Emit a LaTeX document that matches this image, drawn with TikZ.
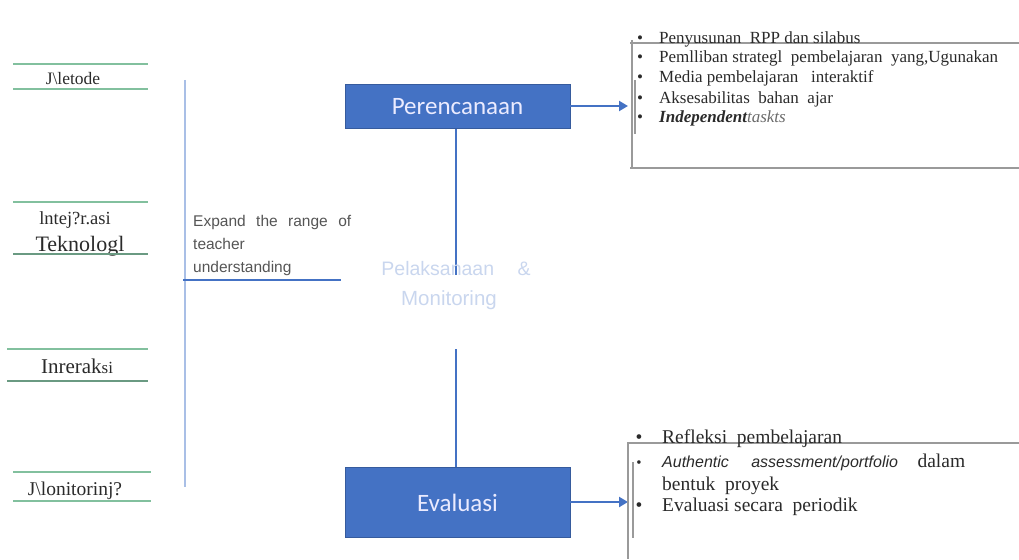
\documentclass[tikz,border=0pt]{standalone}
\usepackage{fontspec}
\setmainfont{Liberation Serif}
\setsansfont{Liberation Sans}
\newfontfamily\calib{Carlito}
\usetikzlibrary{arrows.meta}
\definecolor{boxblue}{HTML}{4472C4}
\definecolor{lightline}{HTML}{A9BFE6}
\definecolor{greenl}{HTML}{82C09E}
\definecolor{greend}{HTML}{6A9A82}
\definecolor{fade}{HTML}{C9D6EE}
\definecolor{txt}{HTML}{2A2A2A}
\definecolor{grayl}{HTML}{9A9A9A}
\tikzset{
  gline/.style={draw=greenl, line width=2pt},
  glinethin/.style={draw=greenl, line width=1.2pt},
  lab/.style={inner sep=0pt, anchor=base, text=txt},
  stage/.style={fill=boxblue, draw=boxblue!80!black, line width=0.5pt, inner sep=0pt, text=white!92!blue, font=\calib\fontsize{25}{28}\selectfont},
  conn/.style={draw=boxblue, line width=2.6pt},
  arr/.style={draw=boxblue, line width=2.6pt, -{Triangle[length=9pt,width=10pt]}},
  frame/.style={draw=grayl, line width=1.6pt},
  frameb/.style={draw=grayl, line width=2.4pt},
  item/.style={inner sep=0pt, anchor=base west, text=txt},
  bul/.style={inner sep=0pt, anchor=base, text=txt},
}
\begin{document}
\begin{tikzpicture}[x=1pt,y=-1pt]
\useasboundingbox (0,0) rectangle (1019,559);
% left labels
\draw[gline] (13,64) -- (148,64);
\draw[glinethin] (13,89) -- (148,89);
\node[lab, font=\fontsize{17.5}{20}\selectfont] (metode) at (73,85) {J\textbackslash letode};
\draw[gline] (13,202) -- (148,202);
\node[lab, font=\fontsize{18.5}{20}\selectfont] (integ) at (75,224) {lntej?r.asi};
\node[lab, font=\fontsize{22}{24}\selectfont] (tekno) at (80,251) {Teknologl};
\draw[glinethin, draw=greend] (13,254) -- (148,254);
\draw[gline] (7,349) -- (148,349);
\node[lab, font=\fontsize{21}{22}\selectfont] (inter) at (77,373) {Inrerak{\fontsize{17}{18}\selectfont si}};
\draw[gline, draw=greend, line width=2.6pt] (7,381) -- (148,381);
\draw[gline] (13,472) -- (151,472);
\node[lab, font=\fontsize{19.5}{20}\selectfont] (monit) at (75,495) {J\textbackslash lonitorinj?};
\draw[gline] (13,501) -- (151,501);
% light vertical line and text
\draw[draw=lightline, line width=1.3pt] (185,80) -- (185,487);
\node[inner sep=0pt, anchor=base west, text=txt!80, font=\sffamily\fontsize{15.5}{23}\selectfont, align=left] (expand) at (193,272)
  {\hbox to 158pt{Expand\hfil the\hfil range\hfil of}\\teacher\\understanding};
\coordinate (hl) at (183,280);
\coordinate (hr) at (341,280);
\draw[conn, line width=2pt] (hl) -- (hr);
% stages
\node[stage, minimum width=225pt, minimum height=44pt] (per) at (457.5,106.5) {Perencanaan};
\node[stage, minimum width=225pt, minimum height=70pt] (eva) at (457.5,502.5) {Evaluasi};
\coordinate (v1) at (456,275);
\coordinate (v2) at (456,349);
\draw[conn] (per.south -| v1) -- (v1);
\draw[conn] (v2) -- (eva.north -| v2);
\node[inner sep=0pt, anchor=base, text=fade, font=\sffamily\fontsize{19.5}{30}\selectfont] (pel) at (456,275) {Pelaksanaan\hspace{1.2em}\&};
\node[inner sep=0pt, anchor=base, text=fade, font=\sffamily\fontsize{20.5}{30}\selectfont] (mon) at (449,305) {Monitoring};
% arrows
\coordinate (a1) at (628,106);
\coordinate (a2) at (628,502);
\draw[arr] (per.east |- a1) -- (a1);
\draw[arr] (eva.east |- a2) -- (a2);
% top right frame
\draw[frame] (630,43) -- (1019,43);
\draw[frame] (632,40) -- (632,169);
\draw[frame] (630,168) -- (1019,168);
\draw[frameb] (635,80) -- (635,134);
\begin{scope}[font=\fontsize{17}{20}\selectfont]
\node[bul] (b1) at (640,44) {\textbullet};
\node[item] (t1) at (659,44) {Penyusunan\ \ RPP\ dan\ silabus};
\node[bul] (b2) at (640,63) {\textbullet};
\node[item] (t2) at (659,63) {Pemlliban\ strategl\ \ pembelajaran\ \ yang,Ugunakan};
\node[bul] (b3) at (640,83) {\textbullet};
\node[item] (t3) at (659,83) {Media\ pembelajaran\ \ \ interaktif};
\node[bul] (b4) at (640,103) {\textbullet};
\node[item] (t4) at (659,103) {Aksesabilitas\ \ bahan\ \ ajar};
\node[bul] (b5) at (640,123) {\textbullet};
\node[item] (t5) at (659,123) {\textbf{\textit{In}}\textit{\textbf{dependent}\textcolor{txt!70}{taskts}}};
\end{scope}
% bottom right frame
\draw[frame] (627,443) -- (1019,443);
\draw[frame] (628,443) -- (628,559);
\draw[frameb] (633,462) -- (633,538);
\begin{scope}[font=\fontsize{19.5}{22}\selectfont]
\node[bul] (c1) at (639,443) {\textbullet};
\node[item] (u1) at (662,443) {Refleksi\ \ pembelajaran};
\node[bul, font=\fontsize{15}{18}\selectfont] (c2) at (639,467) {\textbullet};
\node[item] (u2) at (662,467) {{\sffamily\itshape\fontsize{16}{18}\selectfont Authentic\hspace{1.4em}assessment/portfolio}\hspace{1em}dalam};
\node[item] (u3) at (662,490) {bentuk\ \ proyek};
\node[bul] (c3) at (639,511) {\textbullet};
\node[item] (u4) at (662,511) {Evaluasi secara\ \ periodik};
\end{scope}
\end{tikzpicture}
\end{document}
